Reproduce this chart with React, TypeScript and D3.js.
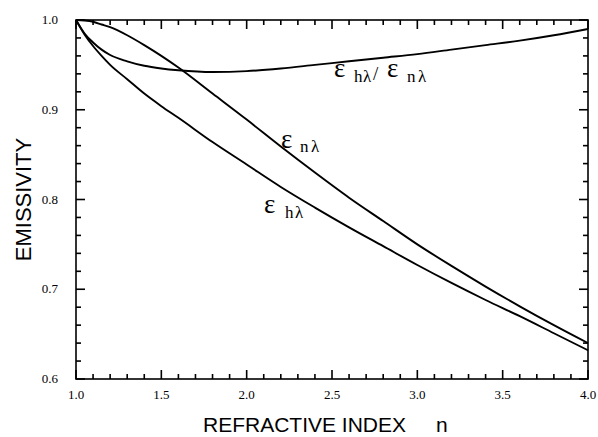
import React from "react";
import * as d3 from "d3";

// refractive index samples
const nValues = [1.0, 1.05, 1.1, 1.15, 1.2, 1.3, 1.4, 1.5, 1.6, 1.8, 2.0, 2.2, 2.4, 2.6, 2.8, 3.0, 3.2, 3.4, 3.6, 3.8, 4.0];
// normal emissivity
const epsNormal = [1.0, 0.9994, 0.998, 0.995, 0.992, 0.983, 0.972, 0.96, 0.947, 0.918, 0.889, 0.859, 0.83, 0.802, 0.776, 0.75, 0.726, 0.703, 0.681, 0.66, 0.64];
// hemispherical emissivity
const epsHemi = [1.0, 0.984, 0.971, 0.96, 0.95, 0.934, 0.918, 0.904, 0.891, 0.864, 0.839, 0.814, 0.791, 0.769, 0.748, 0.727, 0.707, 0.688, 0.67, 0.651, 0.632];
// ratio hemispherical / normal
const epsRatio = [1.0, 0.985, 0.975, 0.967, 0.961, 0.954, 0.949, 0.946, 0.944, 0.942, 0.943, 0.946, 0.95, 0.954, 0.958, 0.962, 0.967, 0.972, 0.977, 0.983, 0.99];

const xMajor = [1.0, 1.5, 2.0, 2.5, 3.0, 3.5, 4.0];
const yMajor = [0.6, 0.7, 0.8, 0.9, 1.0];

const W = 598;
const H = 437;
const margin = { top: 20, right: 10, bottom: 58, left: 76 };

const serif = "'Liberation Serif', 'DejaVu Serif', serif";
const sans = "'Liberation Sans', Arial, sans-serif";

// one glyph of a curve label: [text, x, y, fontSize]
type Glyph = [string, number, number, number];
const labelRatio: Glyph[] = [
  ["ε", 334, 77, 27], ["h", 354, 82, 17], ["λ", 363, 82, 17], ["/", 373, 80, 19],
  ["ε", 387, 77, 27], ["n", 407, 82, 17], ["λ", 418, 82, 17],
];
const labelNormal: Glyph[] = [["ε", 281, 148, 27], ["n", 300, 152, 17], ["λ", 311, 152, 17]];
const labelHemi: Glyph[] = [["ε", 264, 213, 27], ["h", 285, 218, 17], ["λ", 295, 218, 17]];

export default function App() {
  const x = d3.scaleLinear().domain([1, 4]).range([margin.left, W - margin.right]);
  const y = d3.scaleLinear().domain([0.6, 1.0]).range([H - margin.bottom, margin.top]);

  const line = d3
    .line<number>()
    .x((_, i) => x(nValues[i]))
    .y((d) => y(d))
    .curve(d3.curveMonotoneX);

  const xMinor = d3.range(10, 41).map((v) => v / 10);
  const yMinor = d3.range(30, 51).map((v) => v / 50);

  const xL = x(1), xR = x(4), yB = y(0.6), yT = y(1.0);
  const isMajor = (arr: number[], v: number) => arr.some((m) => Math.abs(m - v) < 1e-6);

  // ticks as small filled rects, inward on all four sides
  const tw = 1.6;
  const tickRects: { x: number; y: number; w: number; h: number }[] = [];
  xMinor.forEach((v) => {
    const len = isMajor(xMajor, v) ? 9 : 5;
    const px = x(v);
    tickRects.push({ x: px - tw / 2, y: yB - len, w: tw, h: len });
    tickRects.push({ x: px - tw / 2, y: yT, w: tw, h: len });
  });
  yMinor.forEach((v) => {
    const len = isMajor(yMajor, v) ? 9 : 5;
    const py = y(v);
    tickRects.push({ x: xL, y: py - tw / 2, w: len, h: tw });
    tickRects.push({ x: xR - len, y: py - tw / 2, w: len, h: tw });
  });

  const drawLabel = (g: Glyph[], k: string) => (
    <g key={k}>
      {g.map(([t, gx, gy, fs], i) => (
        <text key={i} x={gx} y={gy} fontFamily={serif} fontSize={fs} fill="#000">
          {t}
        </text>
      ))}
    </g>
  );

  return (
    <svg width={W} height={H} style={{ position: "absolute", left: 0, top: 0, background: "#fff" }}>
      <rect x={xL} y={yT} width={xR - xL} height={yB - yT} fill="none" stroke="#000" strokeWidth={1.6} />
      <g fill="#000">
        {tickRects.map((r, i) => (
          <rect key={i} x={r.x} y={r.y} width={r.w} height={r.h} />
        ))}
      </g>

      {xMajor.map((v) => (
        <text key={"xl" + v} x={x(v)} y={yB + 20} textAnchor="middle" fontFamily={serif} fontSize={13}>
          {v.toFixed(1)}
        </text>
      ))}
      {yMajor.map((v) => (
        <text key={"yl" + v} x={xL - 18} y={y(v) + 4} textAnchor="end" fontFamily={serif} fontSize={13}>
          {v.toFixed(1)}
        </text>
      ))}

      <g fill="none" stroke="#000" strokeWidth={1.9}>
        <path d={line(epsNormal) || ""} />
        <path d={line(epsHemi) || ""} />
        <path d={line(epsRatio) || ""} />
      </g>

      {drawLabel(labelRatio, "lr")}
      {drawLabel(labelNormal, "ln")}
      {drawLabel(labelHemi, "lh")}

      <text x={203} y={432} fontFamily={sans} fontSize={21}>
        REFRACTIVE INDEX
      </text>
      <text x={436} y={432} fontFamily={sans} fontSize={21}>
        n
      </text>
      <text
        transform={`translate(31, ${(yB + yT) / 2}) rotate(-90)`}
        textAnchor="middle"
        fontFamily={sans}
        fontSize={22}
      >
        EMISSIVITY
      </text>
    </svg>
  );
}
